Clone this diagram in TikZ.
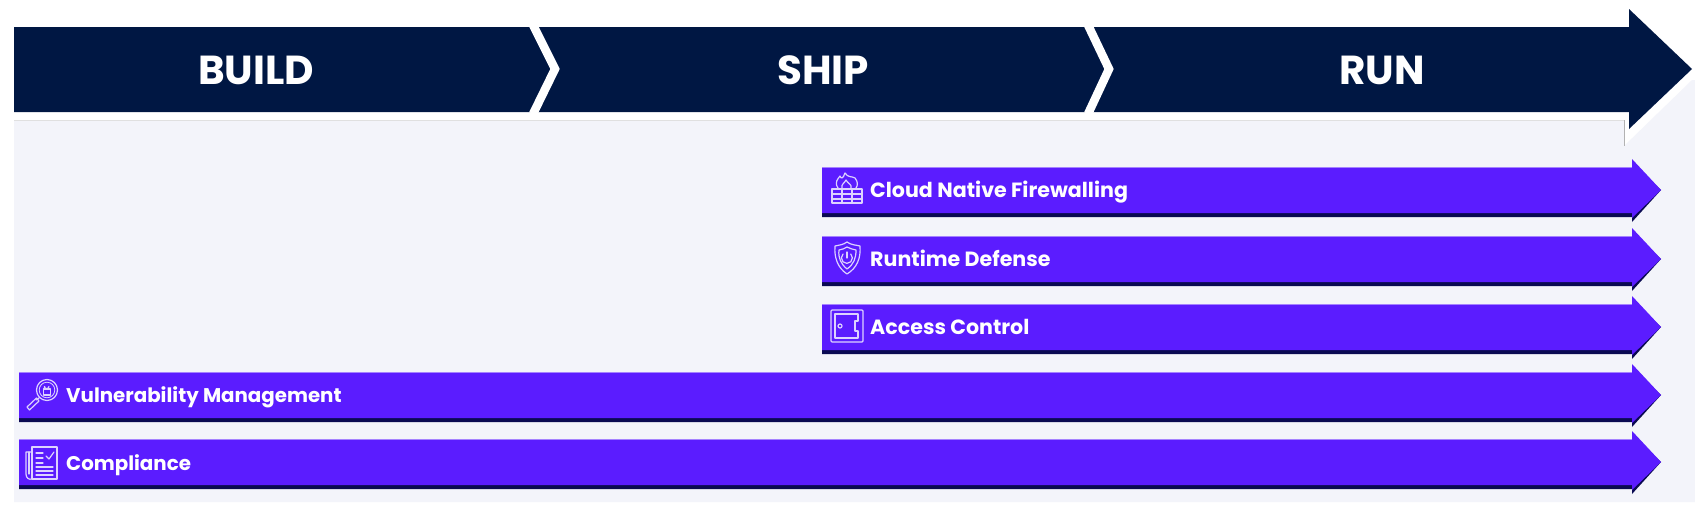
\documentclass[tikz,border=0pt]{standalone}
\usepackage{fontspec}
\setmainfont{Poppins}[BoldFont={Poppins Bold},UprightFont={Poppins}]
\definecolor{navy}{HTML}{001743}
\definecolor{violetbar}{HTML}{5B1CFF}
\definecolor{violetshade}{HTML}{0A0A52}
\definecolor{paleback}{HTML}{F3F4FA}
\definecolor{icoline}{HTML}{DDD2FF}
\tikzset{
  phase/.style={font=\bfseries\fontsize{40.5}{41}\selectfont,text=white,inner sep=0pt,anchor=base},
  barlabel/.style={font=\bfseries\fontsize{20.6}{21}\selectfont,text=white,inner sep=0pt,anchor=base west},
  barlabelwide/.style={font=\bfseries\fontsize{19.8}{20}\selectfont,text=white,inner sep=0pt,anchor=base west},
  ico/.style={draw=icoline,line width=1.2pt,line join=round,line cap=round},
  gap/.style={draw=white,line width=8.5pt,line join=miter,line cap=butt},
}
\newcommand{\featurebar}[2]{% left x, top y
  \fill[violetshade] (#1,#2+4) -- (1632,#2+4) -- (1632,#2-4) -- (1661,#2+23) -- (1632,#2+55) -- (1632,#2+50) -- (#1,#2+50) -- cycle;
  \fill[violetbar] (#1,#2) -- (1632,#2) -- (1632,#2-8) -- (1661,#2+23) -- (1632,#2+51) -- (1632,#2+46) -- (#1,#2+46) -- cycle;
  \draw[violetbar!55!white,line width=0.6pt] (#1,#2) -- (1632,#2);
}
\begin{document}
\begin{tikzpicture}[x=1pt,y=-1pt]
\useasboundingbox (0,0) rectangle (1695,506);
\fill[white] (0,0) rectangle (1695,506);
\fill[paleback] (14,120) -- (1624,120) -- (1624,146) -- (1692,80) -- (1695,80) -- (1695,502) -- (14,502) -- cycle;
\draw[black!30,line width=0.5pt] (1624,120) -- (1624,146);
\draw[black!12,line width=0.5pt] (14,120) -- (1624,120);
\fill[navy] (14,27) -- (1629,27) -- (1629,9) -- (1692,69) -- (1629,129) -- (1629,112) -- (14,112) -- cycle;
\draw[gap] (533,25) -- (555,69) -- (533,114);
\draw[gap] (1088,25) -- (1109,69) -- (1088,114);
\node[phase] (build) at (256,84) {BUILD};
\node[phase] (ship) at (823,84) {SHIP};
\node[phase] (run) at (1382,84) {RUN};
\featurebar{822}{167}
\featurebar{822}{236}
\featurebar{822}{304}
\featurebar{19}{372}
\featurebar{19}{439}
\node[barlabel] (fw) at (870,197) {Cloud Native Firewalling};
\node[barlabel] (rd) at (870,266) {Runtime Defense};
\node[barlabel] (ac) at (870,334) {Access Control};
\node[barlabelwide] (vm) at (66,402) {Vulnerability Management};
\node[barlabelwide] (co) at (66,470) {Compliance};
% firewall
\draw[ico] (832,189) rectangle (862,203);
\draw[ico] (832,194) -- (862,194) (832,199) -- (862,199) (842,189) -- (842,203) (852,189) -- (852,203);
\draw[ico] (838,188) .. controls (834,182) and (838,179) .. (840,176) .. controls (841,179) and (843,179) .. (845,173) .. controls (848,178) and (852,176) .. (855,178) .. controls (858,182) and (858,185) .. (856,188);
\draw[ico] (842,188) .. controls (841,184) and (844,184) .. (846,180) .. controls (848,184) and (852,184) .. (851,188);
% shield
\draw[ico] (847,242) .. controls (851,245) and (856,245) .. (860,246) .. controls (861,258) and (857,268) .. (847,274) .. controls (838,268) and (834,258) .. (835,246) .. controls (839,245) and (843,245) .. (847,242) -- cycle;
\draw[ico] (847,247) .. controls (850,249) and (853,249) .. (856,250) .. controls (856,258) and (854,264) .. (847,269) .. controls (841,264) and (838,258) .. (839,250) .. controls (842,249) and (845,249) .. (847,247) -- cycle;
\draw[ico] (843,254) arc[start angle=225,end angle=-45,radius=5.5];
\draw[ico] (847,252) -- (847,258);
% safe
\draw[ico,rounded corners=1pt] (831,310) rectangle (863,342);
\draw[ico] (835,314) -- (858,314) -- (858,321) -- (855,321) -- (855,331) -- (858,331) -- (858,338) -- (835,338) -- cycle;
\draw[ico] (840,326) circle[radius=2];
% magnifier
\draw[ico] (47,390) circle[radius=10.5];
\draw[ico,line width=0.8pt] (47,390) circle[radius=7.8];
\draw[ico] (43.5,389) rectangle (50.5,395);
\draw[ico] (44.5,389) -- (44.5,386.5) arc[start angle=180,end angle=0,radius=2.2];
\draw[ico] (39.5,397.5) -- (36.5,400);
\draw[ico] (36.5,398) -- (27,407) -- (29.5,410) -- (39,401) -- cycle;
% compliance
\draw[ico] (32,447) rectangle (57,479);
\draw[ico] (32,452) -- (26,452) -- (26,474) .. controls (26,478) and (29,480) .. (32,479);
\draw[ico] (29,452) -- (29,474);
\draw[ico] (36,453) -- (43,453) (36,458) -- (43,458) (36,463) -- (43,463) (36,467) -- (53,467) (36,471) -- (53,471) (36,475) -- (53,475);
\draw[ico] (46,456) -- (49,459) -- (54,452);
\end{tikzpicture}
\end{document}
